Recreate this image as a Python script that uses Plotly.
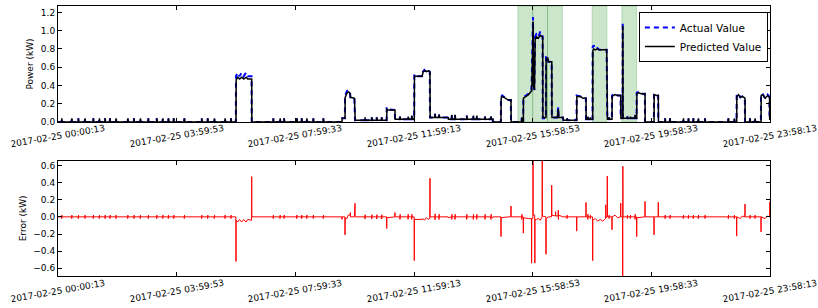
import datetime as dt
import plotly.graph_objects as go

# ---------------- data ----------------
START = "2017-02-25 00:00:13"
FMT = "%Y-%m-%d %H:%M:%S"
LAG_MIN = 20 / 60  # prediction lags the measurement by one 20-s sample

tick_labels = ["2017-02-25 00:00:13", "2017-02-25 03:59:53", "2017-02-25 07:59:33",
               "2017-02-25 11:59:13", "2017-02-25 15:58:53", "2017-02-25 19:58:33",
               "2017-02-25 23:58:13"]

power_ticks = [0.0, 0.2, 0.4, 0.6, 0.8, 1.0, 1.2]
error_ticks = [-0.6, -0.4, -0.2, 0.0, 0.2, 0.4, 0.6]

# highlighted (anomaly) windows, 30 minutes each
span_start = ["2017-02-25 15:28:53", "2017-02-25 15:58:53", "2017-02-25 16:28:53",
              "2017-02-25 17:58:53", "2017-02-25 18:58:53"]
span_minutes = 30

# actual power: (minutes after start, kW)
actual_points = [
    (0, 0.0),
    (359.2, 0.0), (359.5, 0.50), (362.9, 0.54), (366.5, 0.50), (371.0, 0.54), (375.0, 0.50),
    (379.7, 0.54), (383.0, 0.50), (390.9, 0.50), (391.2, 0.0),
    (573.3, 0.0), (573.6, 0.04), (579.4, 0.04), (579.7, 0.29), (583.7, 0.34), (587.0, 0.35),
    (589.8, 0.33), (590.4, 0.27), (598.5, 0.26), (599.9, 0.02),
    (663.6, 0.02), (663.9, 0.16), (667.0, 0.14), (680.3, 0.13), (680.6, 0.03),
    (719.3, 0.03), (719.6, 0.52), (721.0, 0.50), (735.2, 0.50), (737.2, 0.55), (740.0, 0.57),
    (744.0, 0.55), (747.3, 0.57), (750.9, 0.55), (751.3, 0.05),
    (788.0, 0.05), (788.3, 0.03), (878.0, 0.03), (878.3, 0.0),
    (894.4, 0.0), (894.7, 0.27), (897.0, 0.29), (905.0, 0.26), (909.5, 0.24), (914.6, 0.24), (914.9, 0.0),
    (939.5, 0.0), (939.8, 0.27), (945.0, 0.29), (950.0, 0.31), (956.0, 0.35), (956.8, 0.45),
    (959.4, 1.15), (960.0, 0.40), (962.0, 0.35), (963.4, 0.93), (966.0, 0.96), (970.0, 0.93),
    (974.0, 0.99), (977.0, 0.94), (978.7, 0.94), (979.0, 0.04), (985.3, 0.04), (985.6, 0.71),
    (989.0, 0.72), (990.0, 0.66), (997.0, 0.66), (997.3, 0.05), (1008.0, 0.05), (1010.4, 0.16),
    (1011.0, 0.05), (1019.9, 0.05), (1020.5, 0.02),
    (1047.3, 0.02), (1047.6, 0.29), (1055.0, 0.28), (1060.0, 0.26), (1066.1, 0.26), (1066.4, 0.03),
    (1079.6, 0.03), (1079.9, 0.82), (1082.0, 0.84), (1085.0, 0.80), (1089.0, 0.81), (1093.0, 0.79),
    (1108.0, 0.79), (1109.4, 0.03),
    (1118.6, 0.03), (1118.9, 0.29), (1125.0, 0.31), (1130.0, 0.29), (1136.2, 0.29), (1136.5, 0.04),
    (1140.2, 0.04), (1140.5, 1.09), (1140.8, 0.04),
    (1168.5, 0.04), (1168.8, 0.32), (1172.0, 0.33), (1178.0, 0.31), (1185.3, 0.31), (1185.6, 0.0),
    (1203.5, 0.0), (1203.8, 0.31), (1208.0, 0.30), (1212.1, 0.29), (1212.4, 0.0),
    (1370.4, 0.0), (1370.7, 0.29), (1374.0, 0.31), (1378.0, 0.27), (1382.0, 0.28), (1387.2, 0.26), (1387.5, 0.0),
    (1419.6, 0.0), (1419.9, 0.30), (1423.0, 0.31), (1428.0, 0.26), (1433.0, 0.30), (1436.8, 0.28),
    (1437.1, 0.03), (1438.0, 0.03),
]

# predicted power: (minutes after start, kW)
predicted_points = [
    (0, 0.0),
    (359.5, 0.0), (359.8, 0.46), (363.2, 0.49), (366.8, 0.47), (371.3, 0.49), (375.3, 0.47),
    (380.0, 0.49), (383.3, 0.47), (391.2, 0.47), (391.5, 0.0),
    (573.6, 0.0), (573.9, 0.04), (579.7, 0.04), (580.0, 0.27), (584.0, 0.32), (587.3, 0.33),
    (590.1, 0.31), (590.7, 0.27), (598.8, 0.26), (600.2, 0.02),
    (663.9, 0.02), (664.2, 0.14), (667.3, 0.13), (680.6, 0.13), (680.9, 0.03),
    (719.6, 0.03), (719.9, 0.50), (735.5, 0.50), (737.5, 0.55), (740.3, 0.56), (744.3, 0.55),
    (747.6, 0.56), (751.2, 0.55), (751.6, 0.05),
    (788.3, 0.05), (788.6, 0.03), (878.3, 0.03), (878.6, 0.0),
    (894.7, 0.0), (895.0, 0.26), (897.3, 0.28), (905.3, 0.26), (909.8, 0.24), (914.9, 0.24), (915.2, 0.0),
    (939.8, 0.0), (940.1, 0.26), (945.3, 0.28), (950.3, 0.30), (956.3, 0.34), (957.1, 0.42),
    (959.7, 1.10), (960.3, 0.40), (962.3, 0.35), (963.7, 0.90), (966.3, 0.93), (970.3, 0.92),
    (974.3, 0.95), (977.3, 0.93), (979.0, 0.93), (979.3, 0.05), (985.6, 0.05), (985.9, 0.69),
    (989.3, 0.70), (990.3, 0.66), (997.3, 0.66), (997.6, 0.05), (1008.3, 0.05), (1010.7, 0.14),
    (1011.3, 0.05), (1020.2, 0.05), (1020.8, 0.02),
    (1047.6, 0.02), (1047.9, 0.28), (1055.3, 0.28), (1060.3, 0.26), (1066.4, 0.26), (1066.7, 0.03),
    (1079.9, 0.03), (1080.2, 0.78), (1082.3, 0.80), (1085.3, 0.79), (1089.3, 0.80), (1093.3, 0.79),
    (1108.3, 0.79), (1109.7, 0.03),
    (1118.9, 0.03), (1119.2, 0.28), (1125.3, 0.30), (1130.3, 0.29), (1136.5, 0.29), (1136.8, 0.04),
    (1140.5, 0.04), (1140.8, 1.05), (1141.1, 0.04),
    (1168.8, 0.04), (1169.1, 0.31), (1172.3, 0.32), (1178.3, 0.31), (1185.6, 0.31), (1185.9, 0.0),
    (1203.8, 0.0), (1204.1, 0.30), (1208.3, 0.29), (1212.4, 0.29), (1212.7, 0.0),
    (1370.7, 0.0), (1371.0, 0.28), (1374.3, 0.30), (1378.3, 0.27), (1382.3, 0.28), (1387.5, 0.26), (1387.8, 0.0),
    (1419.9, 0.0), (1420.2, 0.29), (1423.3, 0.30), (1428.3, 0.26), (1433.3, 0.29), (1437.1, 0.27),
    (1437.4, 0.03), (1438.0, 0.03),
]

# short appliance blips on the baseline: time (min), baseline (kW), peak (kW), error swing (kW)
blip_t = [7.5, 27.7, 41.0, 54.5, 71.3, 83.4, 94.9, 105.0, 117.1, 140.8, 153.5, 166.2, 182.4,
          199.3, 211.5, 222.8, 233.7, 255.1, 290.2, 302.3, 315.7, 337.3, 349.4,
          434.8, 448.4, 456.5, 482.1, 492.2, 502.3, 515.6, 535.8,
          620.0, 633.6, 643.7, 653.8, 690.7, 707.0, 714.4, 761.4, 769.5,
          795.2, 801.8, 825.5, 838.8, 845.7, 862.4, 874.5, 936.6, 1028.0, 1070.0, 1075.0,
          1113.0, 1150.0, 1156.0, 1165.4,
          1226.0, 1236.1, 1263.0, 1273.1, 1283.1, 1293.2, 1306.7, 1353.8, 1365.9, 1397.6, 1407.7]
blip_base = [0.0] * 23 + [0.0] * 8 + [0.02] * 4 + [0.03] * 3 + [0.05] * 2 + [0.03] * 7 + \
            [0.0, 0.02, 0.03, 0.03, 0.03, 0.04, 0.04, 0.04] + [0.0] * 11
blip_peak = [0.04] * 23 + [0.04] * 8 + [0.05] * 4 + [0.06, 0.06, 0.07] + [0.09, 0.08] + \
            [0.08, 0.08, 0.07, 0.07, 0.07, 0.06, 0.06] + \
            [0.05, 0.04, 0.06, 0.05, 0.05, 0.06, 0.06, 0.08] + [0.04] * 11
blip_err = [0.02] * 23 + [0.02] * 8 + [0.025] * 4 + [0.03] * 3 + [0.035, 0.03] + [0.03] * 7 + \
           [0.03, 0.02, 0.03, 0.02, 0.02, 0.02, 0.02, 0.03] + [0.02] * 11

# prediction error (predicted - actual): (minutes after start, kW)
error_points = [
    (0, 0.0),
    (359.2, 0.0), (359.5, -0.52), (359.8, -0.04), (362.9, -0.06), (366.5, -0.03), (371.0, -0.06),
    (375.0, -0.03), (379.7, -0.06), (383.0, -0.03), (390.9, -0.04), (391.2, 0.47), (391.5, 0.0),
    (573.3, 0.0), (573.6, -0.03), (573.9, 0.0), (579.4, 0.0), (579.7, -0.21), (580.0, -0.01),
    (583.7, -0.02), (586.0, 0.02), (589.8, 0.02), (590.4, 0.05), (590.7, 0.0), (598.5, 0.0),
    (599.9, 0.157), (600.2, 0.0),
    (663.6, 0.0), (663.9, -0.136), (664.2, -0.01), (680.3, 0.0), (680.6, 0.05), (680.9, 0.0),
    (719.3, 0.0), (719.6, -0.51), (719.9, -0.03), (735.2, -0.03), (737.2, -0.02), (740.0, -0.04),
    (744.0, -0.01), (747.3, -0.03), (750.9, -0.02), (751.3, 0.45), (751.6, 0.0),
    (788.0, 0.0), (788.3, -0.01), (878.0, -0.01), (878.3, 0.0),
    (894.4, 0.0), (894.7, -0.23), (895.0, -0.01), (909.5, 0.0), (914.6, 0.0), (914.9, 0.125), (915.2, 0.0),
    (939.5, 0.0), (939.8, -0.19), (940.1, -0.01), (950.0, -0.02), (956.2, -0.02), (956.5, -0.54),
    (956.8, -0.02), (959.1, -0.02), (959.4, 0.75), (959.7, 0.02), (962.8, 0.02), (963.1, -0.54),
    (963.4, -0.03), (966.0, -0.03), (970.0, -0.02), (974.0, -0.04), (977.7, 0.0), (978.0, 0.75),
    (978.3, 0.01), (985.3, 0.0), (985.6, -0.436), (985.9, -0.02), (990.0, 0.0), (996.8, 0.0),
    (997.1, 0.37), (997.4, 0.02), (1004.7, 0.01), (1005.0, 0.06), (1005.3, 0.01), (1010.1, 0.01),
    (1010.4, 0.078), (1010.7, -0.03), (1011.0, 0.02), (1020.0, 0.0),
    (1047.3, 0.0), (1047.6, -0.167), (1047.9, 0.0), (1066.1, 0.0), (1066.4, 0.168), (1066.7, 0.0),
    (1079.6, 0.0), (1079.9, -0.51), (1080.2, -0.04), (1085.0, -0.02), (1090.0, -0.05), (1095.0, -0.03),
    (1100.0, -0.05), (1106.0, -0.02), (1106.3, 0.14), (1106.6, -0.01), (1109.1, 0.0), (1109.4, 0.475),
    (1109.7, 0.0),
    (1118.6, 0.0), (1118.9, -0.15), (1119.2, 0.0), (1125.0, 0.02), (1130.0, -0.01), (1136.2, 0.0),
    (1136.5, 0.16), (1136.8, 0.0), (1140.2, 0.0), (1140.5, -0.75), (1140.8, 0.59), (1141.1, 0.0),
    (1168.5, 0.0), (1168.8, -0.23), (1169.1, -0.01), (1185.3, 0.0), (1185.6, 0.18), (1185.9, 0.0),
    (1203.5, 0.0), (1203.8, -0.21), (1204.1, 0.0), (1212.1, 0.0), (1212.4, 0.17), (1212.7, 0.0),
    (1370.4, 0.0), (1370.7, -0.225), (1371.0, 0.0), (1378.0, -0.02), (1382.0, 0.01), (1387.2, 0.0),
    (1387.5, 0.15), (1387.8, 0.0),
    (1419.6, 0.0), (1419.9, -0.175), (1420.2, 0.0), (1428.0, -0.02), (1433.0, 0.01), (1437.1, 0.0),
    (1437.4, 0.175), (1438.0, 0.17),
]

# ---------------- build series ----------------
t0 = dt.datetime.strptime(START, FMT)


def with_blips(points, shift, kind):
    pts = list(points)
    for t, b, p, e in zip(blip_t, blip_base, blip_peak, blip_err):
        t = t + shift
        if kind == "power":
            pts += [(t - 0.5, b), (t, p), (t + 0.5, b)]
        else:
            pts += [(t - 0.2, 0.0), (t, -e), (t + LAG_MIN, e), (t + 0.6, 0.0)]
    pts.sort(key=lambda q: q[0])
    xs = [t0 + dt.timedelta(minutes=q[0]) for q in pts]
    ys = [q[1] for q in pts]
    return xs, ys


ax, ay = with_blips(actual_points, 0.0, "power")
px_, py_ = with_blips(predicted_points, LAG_MIN, "power")
ex, ey = with_blips(error_points, 0.0, "error")

tickvals = [dt.datetime.strptime(s, FMT) for s in tick_labels]
FONT = "DejaVu Sans"

fig = go.Figure()
fig.add_trace(go.Scatter(x=ax, y=ay, mode="lines", name="Actual Value",
                         line=dict(color="#0000ff", width=2, dash="5px,4px"),
                         xaxis="x", yaxis="y"))
fig.add_trace(go.Scatter(x=px_, y=py_, mode="lines", name="Predicted Value",
                         line=dict(color="#000000", width=1.5), xaxis="x", yaxis="y"))
fig.add_trace(go.Scatter(x=ex, y=ey, mode="lines", name="Error", showlegend=False,
                         line=dict(color="#ff0000", width=1), xaxis="x2", yaxis="y2"))

for s in span_start:
    x0 = dt.datetime.strptime(s, FMT)
    fig.add_shape(type="rect", xref="x", yref="y domain", x0=x0,
                  x1=x0 + dt.timedelta(minutes=span_minutes), y0=0, y1=1,
                  fillcolor="rgba(0,128,0,0.2)", line=dict(color="rgba(0,128,0,0.2)", width=1),
                  layer="below")

xr = [tickvals[0], tickvals[-1]]
common_x = dict(range=xr, tickvals=tickvals, showticklabels=False, ticks="inside", ticklen=4,
                tickcolor="black", showline=True, linecolor="black", linewidth=1, mirror="ticks",
                showgrid=False, zeroline=False)
common_y = dict(ticks="inside", ticklen=4, tickcolor="black", showline=True, linecolor="black",
                linewidth=1, mirror="ticks", showgrid=False, zeroline=False, tickformat=".1f",
                tickfont=dict(size=9, color="black"))

fig.update_layout(
    width=818, height=308,
    margin=dict(l=58, r=48, t=6, b=32),
    paper_bgcolor="white", plot_bgcolor="white",
    font=dict(family=FONT, size=9, color="black"),
    xaxis=dict(domain=[0, 1], anchor="y", **common_x),
    xaxis2=dict(domain=[0, 1], anchor="y2", **common_x),
    yaxis=dict(domain=[0.5704, 1], anchor="x", range=[0, 1.27], tickvals=power_ticks,
               title=dict(text="Power (kW)", font=dict(size=9), standoff=5), **common_y),
    yaxis2=dict(domain=[0, 0.427], anchor="x2", range=[-0.69, 0.655], tickvals=error_ticks,
                title=dict(text="Error (kW)", font=dict(size=9), standoff=5), **common_y),
    legend=dict(x=0.997, y=0.978, xanchor="right", yanchor="top", bgcolor="white",
                bordercolor="black", borderwidth=1, font=dict(size=10.5),
                tracegroupgap=0, itemwidth=30),
    showlegend=True,
)

annotations = []
for xref, yref in (("x", "y domain"), ("x2", "y2 domain")):
    for tv, lbl in zip(tickvals, tick_labels):
        annotations.append(dict(x=tv, y=0, xref=xref, yref=yref, text=lbl, showarrow=False,
                                textangle=-10, xanchor="center", yanchor="middle", yshift=-14.5,
                                font=dict(family=FONT, size=9, color="black")))
fig.update_layout(annotations=annotations)

fig.write_html("out.html", config={"displayModeBar": False},
               post_script="document.body.style.margin='0';")
